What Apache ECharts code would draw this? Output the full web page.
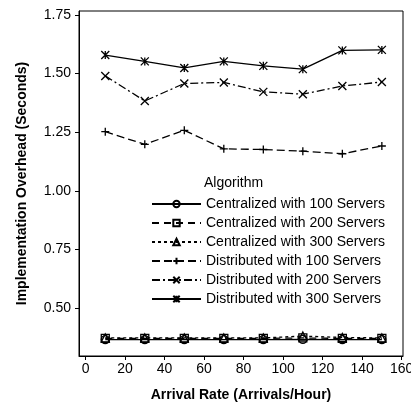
<!DOCTYPE html>
<html><head><meta charset="utf-8">
<script src="https://cdn.jsdelivr.net/npm/echarts@6/dist/echarts.min.js"></script>
<style>html,body{margin:0;padding:0;background:#fff}#c{width:411px;height:403px}</style>
</head><body><div id="c"></div>
<script>
var arrivalRates = [10, 30, 50, 70, 90, 110, 130, 150];
var seriesNames = ['Centralized with 100 Servers','Centralized with 200 Servers','Centralized with 300 Servers','Distributed with 100 Servers','Distributed with 200 Servers','Distributed with 300 Servers'];
var central100 = [0.365, 0.365, 0.365, 0.365, 0.365, 0.366, 0.365, 0.365];
var central200 = [0.370, 0.370, 0.370, 0.370, 0.370, 0.372, 0.370, 0.370];
var central300 = [0.372, 0.372, 0.372, 0.372, 0.372, 0.380, 0.374, 0.372];
var distrib100 = [1.252, 1.198, 1.258, 1.179, 1.176, 1.169, 1.158, 1.191];
var distrib200 = [1.490, 1.383, 1.458, 1.462, 1.422, 1.412, 1.447, 1.464];
var distrib300 = [1.579, 1.552, 1.524, 1.552, 1.533, 1.519, 1.599, 1.601];
var yTicks = [0.50, 0.75, 1.00, 1.25, 1.50, 1.75];
var xTicks = [0, 20, 40, 60, 80, 100, 120, 140, 160];

var FONT = 'Arial, "Liberation Sans", sans-serif';
function pairs(vals){ return arrivalRates.map(function(x,i){ return [x, vals[i]]; }); }
var symbols = [
  'circle', 'rect', 'triangle',
  'path://M5,0L5,10M0,5L10,5',
  'path://M0,0L10,10M10,0L0,10',
  'path://M0,0L10,10M10,0L0,10M5,0L5,10'
];
var dashes = ['solid', [7,5], [3,3], [8,4], [8,3,2,3], 'solid'];
var datas = [central100, central200, central300, distrib100, distrib200, distrib300];
var series = datas.map(function(d, i){
  return {
    name: seriesNames[i], type: 'line', data: pairs(d),
    symbol: symbols[i], symbolSize: 8, showSymbol: true,
    lineStyle: {color: '#000', width: 1.3, type: dashes[i]},
    itemStyle: {color: 'none', borderColor: '#000', borderWidth: 1.3},
    emphasis: {disabled: true}, animation: false, z: 2 + i
  };
});
var chart = echarts.init(document.getElementById('c'), null, {renderer: 'canvas'});
chart.setOption({
  animation: false,
  backgroundColor: '#fff',
  textStyle: {fontFamily: FONT},
  grid: {left: 79, right: 8, top: 11, bottom: 47, show: true, borderColor: '#000', borderWidth: 1, containLabel: false, outerBoundsMode: 'none'},
  xAxis: {
    type: 'value', min: -3.3, max: 160.7,
    name: 'Arrival Rate (Arrivals/Hour)', nameLocation: 'middle', nameGap: 32,
    nameTextStyle: {color: '#000', fontSize: 14, fontWeight: 'bold', fontFamily: FONT},
    axisLine: {show: true, onZero: false, lineStyle: {color: '#000', width: 1}},
    axisTick: {show: true, length: 4, lineStyle: {color: '#000'}, customValues: xTicks},
    axisLabel: {color: '#000', fontSize: 14, fontFamily: FONT, margin: 6, customValues: xTicks, showMinLabel: true, showMaxLabel: true, hideOverlap: false},
    splitLine: {show: false}
  },
  yAxis: {
    type: 'value', min: 0.295, max: 1.767,
    name: 'Implementation Overhead (Seconds)', nameLocation: 'middle', nameGap: 50,
    nameTextStyle: {color: '#000', fontSize: 14, fontWeight: 'bold', fontFamily: FONT},
    axisLine: {show: true, onZero: false, lineStyle: {color: '#000', width: 1}},
    axisTick: {show: true, length: 4, lineStyle: {color: '#000'}, customValues: yTicks},
    axisLabel: {color: '#000', fontSize: 14, fontFamily: FONT, margin: 8, customValues: yTicks,
      formatter: function(v){ return v.toFixed(2); }},
    splitLine: {show: false}
  },
  legend: {
    orient: 'vertical', left: 146, top: 192, itemWidth: 49, itemHeight: 8, itemGap: 5,
    data: seriesNames, selectedMode: false,
    textStyle: {color: '#000', fontSize: 14, fontFamily: FONT, padding: 0}
  },
  graphic: [{type: 'text', left: 204, top: 176, style: {text: 'Algorithm', fill: '#000', font: '14px ' + FONT}}],
  series: series
});
</script></body></html>
